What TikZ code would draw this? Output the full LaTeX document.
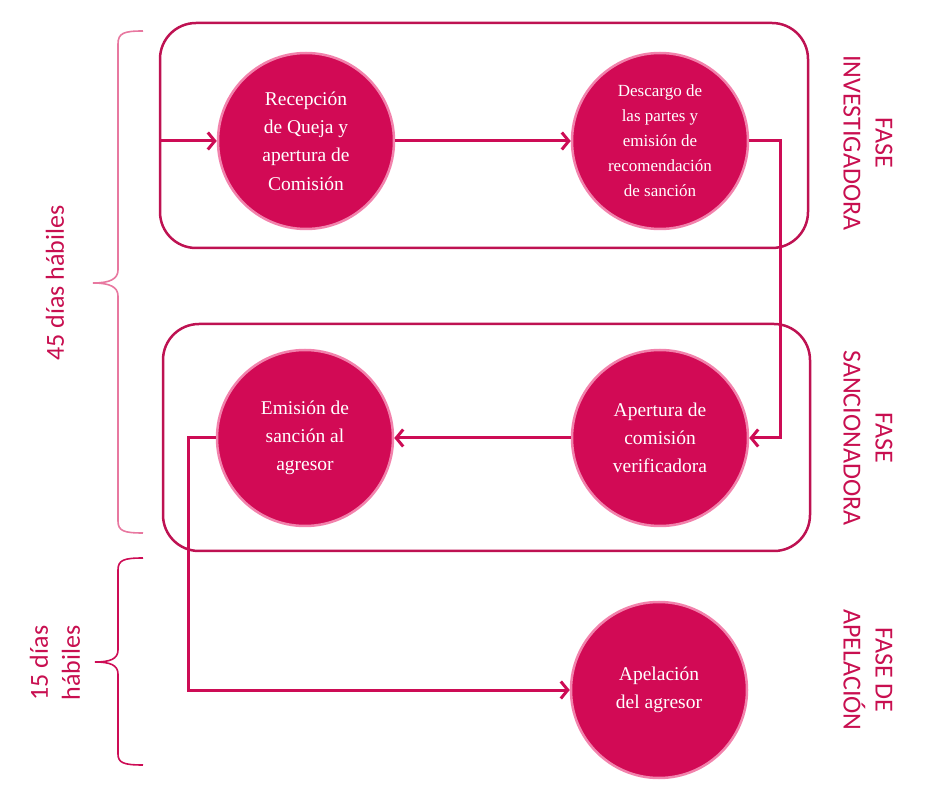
\documentclass[tikz,border=0pt]{standalone}
\usepackage{fontspec}
\setmainfont{Liberation Serif}
\newfontfamily\labfont{Carlito}
\usetikzlibrary{arrows.meta}
\definecolor{fillc}{RGB}{210,10,85}
\definecolor{ringc}{RGB}{242,130,172}
\definecolor{boxc}{RGB}{190,18,82}
\definecolor{arrc}{RGB}{205,12,85}
\definecolor{labc}{RGB}{200,15,80}
\definecolor{bracec}{RGB}{232,120,160}
\tikzset{
  stage/.style={circle, fill=fillc, draw=ringc, line width=2.5pt, minimum size=176pt, inner sep=0pt,
    text=white, align=center, font=\fontsize{19.5}{28.3}\selectfont},
  phasebox/.style={draw=boxc, line width=2.5pt, rounded corners=36pt},
  arr/.style={draw=arrc, line width=3pt, -{Straight Barb[length=7pt,width=17pt,line width=3pt]}},
  lab/.style={text=labc, align=center, font=\labfont\fontsize{26}{32}\selectfont},
  sidelab/.style={text=labc, align=center, font=\labfont\fontsize{26}{32}\selectfont},
  bracel/.style={line width=1.6pt}
}
\begin{document}
\begin{tikzpicture}[x=1pt,y=-1pt]
\useasboundingbox (0,0) rectangle (938,799);
% phase boxes
\draw[phasebox] (160,23) rectangle (808,248);
\draw[phasebox] (163,324) rectangle (810,551);
% stages
\node[stage] (c1) at (306,141) {Recepción\\de Queja y\\apertura de\\Comisión};
\node[stage, font=\fontsize{17}{25}\selectfont] (c2) at (660,141) {Descargo de\\las partes y\\emisión de\\recomendación\\de sanción};
\node[stage] (c3) at (305,438) {Emisión de\\sanción al\\agresor};
\node[stage] (c4) at (660,438) {Apertura de\\comisión\\verificadora};
\node[stage] (c5) at (659,690) {Apelación\\del agresor};
% connectors
\coordinate (start) at (160,141);
\draw[arr] (start) -- (c1);
\draw[arr] (c1) -- (c2);
\draw[arr] (c2.east) -- ++(31,0) |- (c4.east);
\draw[arr] (c4) -- (c3);
\draw[arr] (c3.west) -- ++(-27,0) |- (c5.west);
% braces
\draw[bracel, draw=bracec] (143,31) .. controls (124,31) and (118,33) .. (118,44) -- (118,270)
  .. controls (118,279) and (110,283) .. (93,283) .. controls (110,283) and (118,287) .. (118,296)
  -- (118,521) .. controls (118,531) and (124,533) .. (143,533);
\draw[bracel, draw=arrc] (143,558) .. controls (124,558) and (118,560) .. (118,570) -- (118,650)
  .. controls (118,659) and (110,662) .. (95,662) .. controls (110,662) and (118,665) .. (118,674)
  -- (118,754) .. controls (118,763) and (124,765) .. (143,765);
% labels
\node[lab, rotate=90] (t45) at (55,283) {45 días hábiles};
\node[lab, rotate=90] (t15) at (55,663) {15 días\\hábiles};
\node[sidelab, rotate=-90] (f1) at (868,143) {FASE\\INVESTIGADORA};
\node[sidelab, rotate=-90] (f2) at (868,438) {FASE\\SANCIONADORA};
\node[sidelab, rotate=-90] (f3) at (868,670) {FASE DE\\APELACIÓN};
\end{tikzpicture}
\end{document}
